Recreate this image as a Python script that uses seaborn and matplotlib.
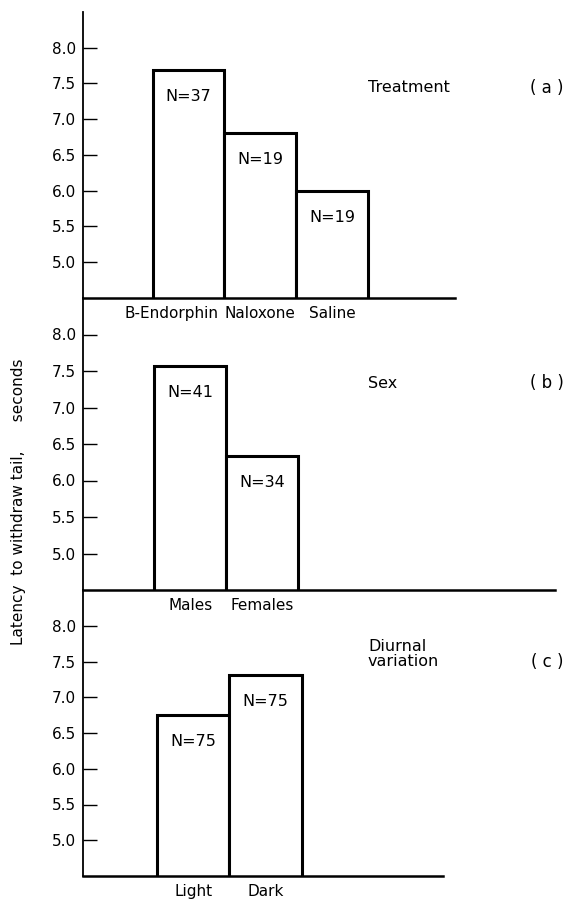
import matplotlib
matplotlib.use("Agg")
import matplotlib.pyplot as plt
import matplotlib.transforms as mtransforms
import seaborn as sns

# ---- data ----
treat_cats = ["B-Endorphin", "Naloxone", "Saline"]
treat_vals = [7.69, 6.81, 6.00]
treat_n = ["N=37", "N=19", "N=19"]

sex_cats = ["Males", "Females"]
sex_vals = [7.57, 6.33]
sex_n = ["N=41", "N=34"]

diurnal_cats = ["Light", "Dark"]
diurnal_vals = [6.75, 7.31]
diurnal_n = ["N=75", "N=75"]

yticks = [5.0, 5.5, 6.0, 6.5, 7.0, 7.5, 8.0]
ytick_labels = ["5.0", "5.5", "6.0", "6.5", "7.0", "7.5", "8.0"]

sns.set_style("ticks")
plt.rcParams["font.family"] = ["DejaVu Sans"]
plt.rcParams["text.color"] = "black"
plt.rcParams["xtick.color"] = "black"
plt.rcParams["ytick.color"] = "black"
plt.rcParams["axes.labelcolor"] = "black"

W, H = 571, 902
fig = plt.figure(figsize=(W / 100, H / 100), dpi=100)

def px_rect(left, top, right, bottom):
    return [left / W, 1 - bottom / H, (right - left) / W, (bottom - top) / H]

panels = [
    (treat_cats, treat_vals, treat_n, px_rect(83, 12, 455, 298), (-1.47, 3.71)),
    (sex_cats, sex_vals, sex_n, px_rect(83, 298, 555, 590), (-1.49, 5.07)),
    (diurnal_cats, diurnal_vals, diurnal_n, px_rect(83, 590, 443, 876), (-1.53, 3.46)),
]

axes = []
for k, (cats, vals, ns, rect, xl) in enumerate(panels):
    ax = fig.add_axes(rect)
    axes.append(ax)
    ax.patch.set_visible(False)
    ax.set_zorder(10 - k)
    sns.barplot(x=cats, y=vals, ax=ax, width=1.0, color="white",
                edgecolor="black", linewidth=2.2, errorbar=None,
                order=cats)
    ax.set_xlim(*xl)
    ax.set_ylim(4.5, 8.5)
    ax.set_yticks(yticks)
    ax.set_yticklabels(ytick_labels)
    ax.tick_params(axis="y", direction="in", length=10, width=1.0,
                   labelsize=11, pad=5, colors="black")
    ax.tick_params(axis="x", length=0, labelsize=11, pad=6, colors="black")
    for s in ("top", "right"):
        ax.spines[s].set_visible(False)
    ax.spines["left"].set_linewidth(1.3)
    ax.spines["bottom"].set_linewidth(1.8)
    ax.spines["left"].set_color("black")
    ax.spines["bottom"].set_color("black")
    ax.set_xlabel("")
    ax.set_ylabel("")
    for i, (v, n) in enumerate(zip(vals, ns)):
        ax.annotate(n, xy=(i, v), xytext=(0, -19), textcoords="offset points",
                    ha="center", va="center", fontsize=11.5, color="black")

# nudge the long "B-Endorphin" label leftwards as in the original
lab = axes[0].get_xticklabels()[0]
lab.set_transform(lab.get_transform() +
                  mtransforms.ScaledTranslation(-0.17, 0, fig.dpi_scale_trans))

def ftext(x, y, s, **kw):
    fig.text(x / W, 1 - y / H, s, color="black", **kw)

ftext(368, 88, "Treatment", ha="left", va="center", fontsize=11.5)
ftext(547, 88, "( a )", ha="center", va="center", fontsize=12)
ftext(368, 383, "Sex", ha="left", va="center", fontsize=11.5)
ftext(547, 383, "( b )", ha="center", va="center", fontsize=12)
ftext(368, 654, "Diurnal\nvariation", ha="left", va="center", fontsize=11.5,
      linespacing=1.0)
ftext(547, 662, "( c )", ha="center", va="center", fontsize=12)

ftext(19, 502, "Latency  to withdraw tail,      seconds", rotation=90,
      ha="center", va="center", fontsize=11)

fig.savefig("out.png", dpi=100, facecolor="white")
